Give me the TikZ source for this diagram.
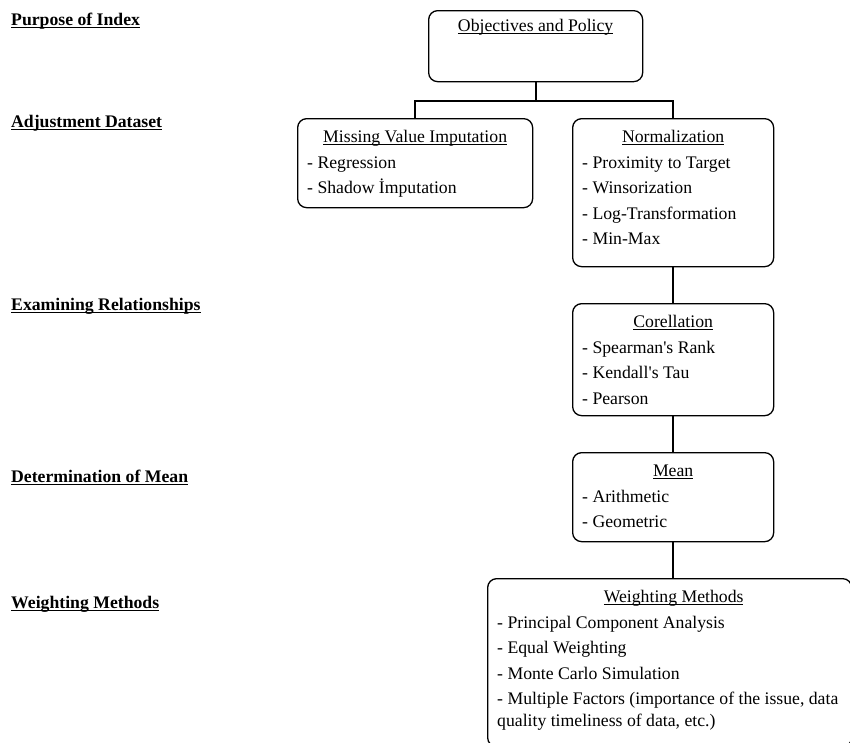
\documentclass[tikz,border=0pt]{standalone}
\usepackage{fontspec}
\setmainfont{Liberation Serif}
\usetikzlibrary{positioning}
% word-style underlines
\newcommand{\headul}[1]{\setbox0=\hbox{#1}\rlap{\rule[-2.2pt]{\wd0}{0.9pt}}\box0}
\newcommand{\labelul}[1]{\setbox0=\hbox{#1}\rlap{\rule[-3pt]{\wd0}{1.3pt}}\box0}
\tikzset{
    stagebox/.style={
        draw,
        rounded corners=9pt,
        line width=1.3pt,
        anchor=north west,
        inner sep=0pt
    },
    stagehead/.style={anchor=base, inner sep=0pt, font=\fontsize{17.7}{21.8}\selectfont},
    stageitems/.style={anchor=north west, inner sep=0pt, align=left, font=\fontsize{17.7}{21.8}\selectfont},
    sidelabel/.style={anchor=base west, inner sep=0pt, font=\fontsize{17.7}{21.8}\selectfont\bfseries},
    link/.style={line width=2pt}
}

\begin{document}
\begin{tikzpicture}[x=1pt, y=-1pt]
\useasboundingbox (0,0) rectangle (850,742);
\clip (0,0) rectangle (850,742);

% stage labels on the left
\node[sidelabel] (lpurpose) at (11,25) {\labelul{Purpose of Index}};
\node[sidelabel] (ladjust) at (11,127) {\labelul{Adjustment Dataset}};
\node[sidelabel] (lexamine) at (11,310) {\labelul{Examining Relationships}};
\node[sidelabel] (lmean) at (11,482) {\labelul{Determination of Mean}};
\node[sidelabel] (lweight) at (11,608) {\labelul{Weighting Methods}};

% boxes
\node[stagebox, minimum width=214pt, minimum height=71pt] (obj) at (428,10) {};
\node[stagehead] (objhead) at ([yshift=-21.5pt]obj.north) {\headul{Objectives and Policy}};

\node[stagebox, minimum width=235pt, minimum height=89pt] (miss) at (297,118) {};
\node[stagehead] (misshead) at ([yshift=-24.5pt]miss.north) {\headul{Missing Value Imputation}};
\node[stageitems] (missitems) at ([xshift=10pt, yshift=-34.6pt]miss.north west)
    {\strut- Regression\\[3.7pt]- Shadow İmputation};

\node[stagebox, minimum width=201pt, minimum height=148pt] (norm) at (572,118) {};
\node[stagehead] (normhead) at ([yshift=-24.5pt]norm.north) {\headul{Normalization}};
\node[stageitems] (normitems) at ([xshift=10pt, yshift=-34.6pt]norm.north west)
    {\strut- Proximity to Target\\[3.7pt]- Winsorization\\[3.7pt]- Log-Transformation\\[3.7pt]- Min-Max};

\node[stagebox, minimum width=201pt, minimum height=112pt] (corr) at (572,303) {};
\node[stagehead] (corrhead) at ([yshift=-24.5pt]corr.north) {\headul{Corellation}};
\node[stageitems] (corritems) at ([xshift=10pt, yshift=-34.6pt]corr.north west)
    {\strut- Spearman\textquotesingle s Rank\\[3.7pt]- Kendall\textquotesingle s Tau\\[3.7pt]- Pearson};

\node[stagebox, minimum width=201pt, minimum height=89pt] (mean) at (572,452) {};
\node[stagehead] (meanhead) at ([yshift=-24.5pt]mean.north) {\headul{Mean}};
\node[stageitems] (meanitems) at ([xshift=10pt, yshift=-34.6pt]mean.north west)
    {\strut- Arithmetic\\[3.7pt]- Geometric};

\node[stagebox, minimum width=364pt, minimum height=168pt] (weight) at (487,578) {};
\node[stagehead] (weighthead) at ([xshift=4pt, yshift=-24.5pt]weight.north) {\headul{Weighting Methods}};
\node[stageitems] (weightitems) at ([xshift=10pt, yshift=-34.6pt]weight.north west)
    {\strut- Principal Component Analysis\\[3.7pt]- Equal Weighting\\[3.7pt]- Monte Carlo Simulation\\[3.7pt]- Multiple Factors (importance of the issue, data\\quality timeliness of data, etc.)};

% connectors
\draw[link] (obj.south) -- ++(0,19) -| (miss.north);
\draw[link] (obj.south) -- ++(0,19) -| (norm.north);
\draw[link] (norm.south) -- (corr.north);
\draw[link] (corr.south) -- (mean.north);
\draw[link] (mean.south) -- (mean.south |- weight.north);
\end{tikzpicture}
\end{document}
